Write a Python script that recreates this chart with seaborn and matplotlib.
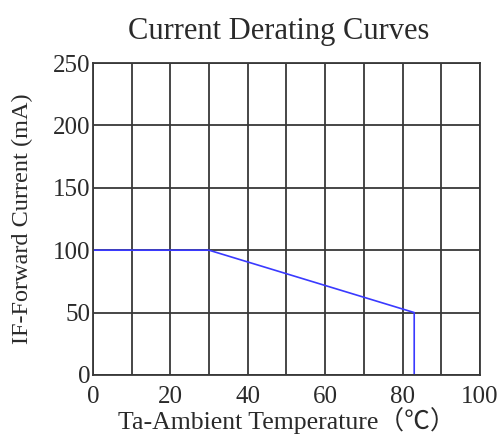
import numpy as np
import pandas as pd
import seaborn as sns
from matplotlib import pyplot as plt

# derating curve
temp_c = [0, 30, 83, 83]
current_ma = [100, 100, 50, 0]

x_ticks = [0, 20, 40, 60, 80, 100]
y_ticks = [0, 50, 100, 150, 200, 250]

sns.set_style('white')
plt.rcParams['font.family'] = ['Liberation Serif', 'Noto Sans CJK SC', 'DejaVu Sans']

df = pd.DataFrame({'Ta': temp_c, 'IF': current_ma})

fig = plt.figure(figsize=(4.99, 4.38), dpi=100)
ax = fig.add_axes([0.186, 0.144, 0.776, 0.712])

sns.lineplot(x='Ta', y='IF', data=df, sort=False, estimator=None,
             color='#3a3aff', linewidth=1.2, ax=ax)

ax.set_xlim(0, 100)
ax.set_ylim(0, 250)
ax.set_xticks(np.arange(0, 101, 10))
ax.set_yticks(y_ticks)
ax.set_xticklabels([str(t) if t in x_ticks else '' for t in range(0, 101, 10)])
ax.grid(True, color='#383838', linewidth=1.3)
ax.tick_params(length=0, labelsize=18, colors='#2a2a2a')
ax.tick_params(axis='x', pad=8)
ax.tick_params(axis='y', pad=2)
for s in ax.spines.values():
    s.set_color('#383838')
    s.set_linewidth(1.3)

ax.set_title('Current Derating Curves', fontsize=22, color='#2a2a2a', pad=17, x=0.48)
ax.set_xlabel('Ta-Ambient Temperature（℃）', fontsize=18.5, color='#2a2a2a', labelpad=-1)
ax.set_ylabel('IF-Forward Current (mA)', fontsize=17.5, color='#2a2a2a', labelpad=14)

plt.savefig('out.png', dpi=100)
plt.close()
